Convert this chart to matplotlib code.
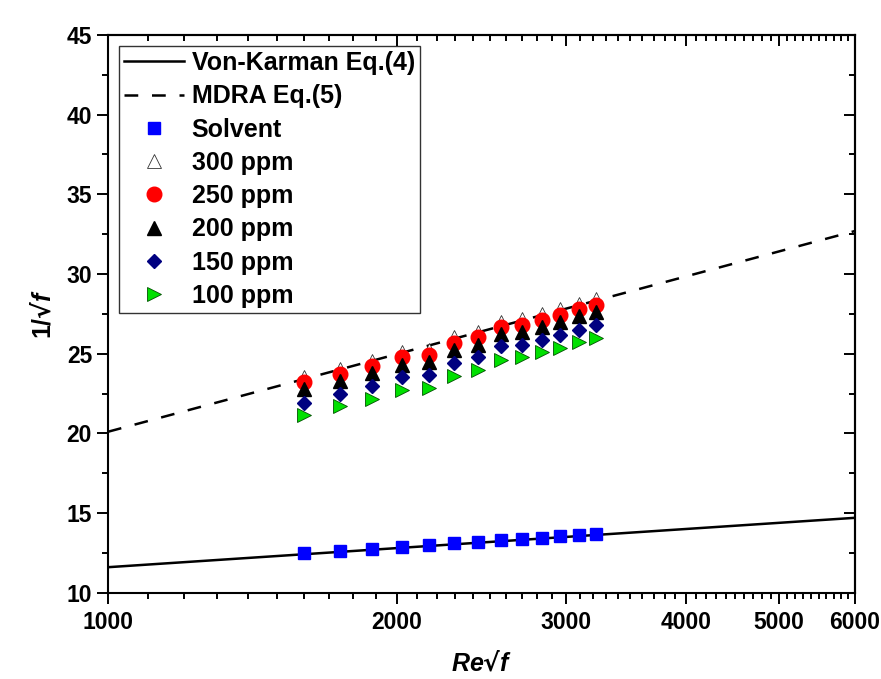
import matplotlib
matplotlib.use("Agg")
import matplotlib.pyplot as plt
from matplotlib.ticker import FixedLocator, MultipleLocator, NullFormatter

plt.rcParams['font.family'] = ['Liberation Sans', 'DejaVu Sans']
plt.rcParams['font.weight'] = 'bold'
plt.rcParams['axes.labelweight'] = 'bold'
plt.rcParams['mathtext.fontset'] = 'custom'
plt.rcParams['mathtext.rm'] = 'DejaVu Sans:bold'
plt.rcParams['mathtext.it'] = 'Liberation Sans:bold:italic'
plt.rcParams['mathtext.bf'] = 'Liberation Sans:bold'

# Re*sqrt(f) of the measured points (same for every series)
re_sqrt_f = [1600, 1745, 1885, 2025, 2160, 2295, 2430, 2565, 2700, 2835, 2960, 3095, 3225]

# 1/sqrt(f)
solvent = [12.48, 12.62, 12.75, 12.89, 13.00, 13.10, 13.20, 13.29, 13.38, 13.46, 13.55, 13.63, 13.69]
ppm300 = [23.51, 24.04, 24.56, 25.09, 25.25, 26.03, 26.39, 27.01, 27.18, 27.50, 27.81, 28.13, 28.40]
ppm250 = [23.20, 23.75, 24.25, 24.80, 24.94, 25.68, 26.03, 26.68, 26.78, 27.14, 27.45, 27.81, 28.08]
ppm200 = [22.78, 23.26, 23.79, 24.31, 24.46, 25.21, 25.57, 26.26, 26.34, 26.68, 26.97, 27.35, 27.60]
ppm150 = [21.90, 22.49, 22.99, 23.54, 23.68, 24.42, 24.80, 25.46, 25.57, 25.88, 26.20, 26.51, 26.83]
ppm100 = [21.13, 21.69, 22.16, 22.74, 22.85, 23.62, 24.00, 24.63, 24.80, 25.08, 25.36, 25.71, 25.99]

# reference lines (straight on the log axis, end points)
line_x = [1000, 6000]
von_karman = [11.6, 14.7]
mdra = [20.1, 32.7]

x_major = [1000, 2000, 3000, 4000, 5000, 6000]
x_minor = [v for v in range(1100, 6000, 100) if v % 1000 != 0]

fig = plt.figure(figsize=(8.81, 6.79), dpi=100)
ax = fig.add_axes([0.1226, 0.1271, 0.848, 0.8214])

ax.plot(line_x, von_karman, color='black', lw=1.8, label='Von-Karman Eq.(4)')
ax.plot(line_x, mdra, color='black', lw=1.8, dashes=(5.5, 5.5), label='MDRA Eq.(5)')

ax.plot(re_sqrt_f, solvent, 's', ms=8.8, color='#0000FF', mec='#0000FF', label='Solvent')
ax.plot(re_sqrt_f, ppm300, '^', ms=10, mfc='white', mec='#333333', mew=0.6, label='300 ppm')
ax.plot(re_sqrt_f, ppm250, 'o', ms=10.5, color='#FF0000', mec='#FF0000', label='250 ppm')
ax.plot(re_sqrt_f, ppm200, '^', ms=10, color='black', label='200 ppm')
ax.plot(re_sqrt_f, ppm150, 'D', ms=7.6, color='#000080', mec='#000080', label='150 ppm')
ax.plot(re_sqrt_f, ppm100, '>', ms=10, color='#00E000', mec='#005000', mew=0.6, label='100 ppm')

ax.set_xscale('log')
ax.set_xlim(1000, 6000)
ax.set_ylim(10, 45)
ax.xaxis.set_major_locator(FixedLocator(x_major))
ax.xaxis.set_minor_locator(FixedLocator(x_minor))
ax.xaxis.set_major_formatter(plt.FuncFormatter(lambda v, p: '%d' % v))
ax.xaxis.set_minor_formatter(NullFormatter())
ax.yaxis.set_major_locator(MultipleLocator(5))
ax.yaxis.set_minor_locator(MultipleLocator(2.5))

for s in ax.spines.values():
    s.set_linewidth(1.5)

ax.tick_params(which='both', direction='out', width=1.4, labelsize=16.5, top=False, right=False)
ax.tick_params(which='major', length=8)
ax.tick_params(which='minor', length=4.5)
ax.tick_params(axis='x', pad=5)

# inward ticks on the top and right edges
top = ax.secondary_xaxis('top')
top.xaxis.set_major_locator(FixedLocator(x_major))
top.xaxis.set_minor_locator(FixedLocator(x_minor))
top.tick_params(which='both', direction='in', width=1.4, labeltop=False)
top.tick_params(which='major', length=8)
top.tick_params(which='minor', length=4.5)
top.spines['top'].set_linewidth(1.5)

right = ax.secondary_yaxis('right')
right.yaxis.set_major_locator(MultipleLocator(5))
right.yaxis.set_minor_locator(MultipleLocator(2.5))
right.tick_params(which='both', direction='in', width=1.4, labelright=False)
right.tick_params(which='major', length=8)
right.tick_params(which='minor', length=4.5)
right.spines['right'].set_linewidth(1.5)

ax.set_xlabel(r'$\mathit{Re}\mathrm{√}\mathit{f}$', fontsize=18, labelpad=12)
ax.set_ylabel(r'$\mathbf{1/}\mathrm{√}\mathit{f}$', fontsize=18, labelpad=8)

leg = ax.legend(loc='upper left', prop={'size': 18, 'weight': 'bold'}, frameon=True,
                fancybox=False, edgecolor='black', handlelength=2.4, handletextpad=0.3,
                labelspacing=0.37, borderaxespad=0.45, borderpad=0.2, numpoints=1)
leg.get_frame().set_linewidth(1.0)

fig.savefig('out.png', dpi=100, facecolor='white')
